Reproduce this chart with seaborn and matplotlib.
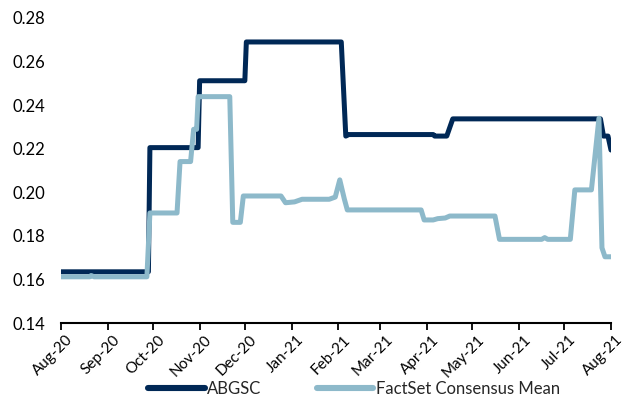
import matplotlib
matplotlib.use("Agg")
import matplotlib.pyplot as plt
import matplotlib.dates as mdates
import matplotlib.transforms as mtransforms
from matplotlib.ticker import FormatStrFormatter
import pandas as pd
import seaborn as sns

# ABGSC estimate path (date, value at each turning point)
abgsc_dates = [
    "2020-08-01", "2020-09-28", "2020-09-29", "2020-10-31", "2020-11-01",
    "2020-12-01", "2020-12-02", "2021-02-03", "2021-02-06", "2021-02-08",
    "2021-04-05", "2021-04-06", "2021-04-14", "2021-04-18", "2021-07-25",
    "2021-07-27", "2021-07-30", "2021-08-01",
]
abgsc_values = [
    0.1635, 0.1635, 0.2205, 0.2205, 0.2512,
    0.2512, 0.2690, 0.2690, 0.2258, 0.2265,
    0.2265, 0.2258, 0.2258, 0.2337, 0.2337,
    0.2258, 0.2258, 0.2194,
]

# FactSet consensus mean path
factset_dates = [
    "2020-08-01", "2020-08-20", "2020-08-21", "2020-08-23", "2020-09-27",
    "2020-09-29", "2020-10-17", "2020-10-19", "2020-10-26", "2020-10-28",
    "2020-10-30", "2020-10-31", "2020-11-21", "2020-11-23", "2020-11-28",
    "2020-11-30", "2020-12-25", "2020-12-28", "2021-01-03", "2021-01-08",
    "2021-01-26", "2021-01-30", "2021-02-02", "2021-02-05", "2021-02-07",
    "2021-03-28", "2021-03-30", "2021-04-05", "2021-04-08", "2021-04-13",
    "2021-04-16", "2021-05-16", "2021-05-19", "2021-06-16", "2021-06-18",
    "2021-06-20", "2021-07-05", "2021-07-08", "2021-07-19", "2021-07-24",
    "2021-07-26", "2021-07-28", "2021-08-01",
]
factset_values = [
    0.1612, 0.1612, 0.1618, 0.1612, 0.1612,
    0.1905, 0.1905, 0.2141, 0.2141, 0.2289,
    0.2289, 0.2439, 0.2439, 0.1862, 0.1862,
    0.1983, 0.1983, 0.1952, 0.1956, 0.1968,
    0.1968, 0.1978, 0.2057, 0.1970, 0.1919,
    0.1919, 0.1873, 0.1873, 0.1879, 0.1882,
    0.1891, 0.1891, 0.1784, 0.1784, 0.1792,
    0.1784, 0.1784, 0.2011, 0.2011, 0.2340,
    0.1745, 0.1704, 0.1704,
]

series_names = ["ABGSC", "FactSet Consensus Mean"]
series_colors = ["#002856", "#8DB9CA"]

df = pd.concat([
    pd.DataFrame({"date": pd.to_datetime(abgsc_dates), "value": abgsc_values,
                  "series": series_names[0]}),
    pd.DataFrame({"date": pd.to_datetime(factset_dates), "value": factset_values,
                  "series": series_names[1]}),
], ignore_index=True)

sns.set_theme(style="white")
plt.rcParams["font.family"] = ["Lato", "DejaVu Sans"]

fig = plt.figure(figsize=(6.29, 3.99), dpi=100)
ax = fig.add_axes([61 / 629, 1 - 323 / 399, 550 / 629, 305 / 399])

sns.lineplot(
    data=df, x="date", y="value", hue="series",
    hue_order=series_names, palette=series_colors,
    estimator=None, sort=False, linewidth=3.6, ax=ax,
    solid_capstyle="round", solid_joinstyle="round",
)

ax.set_xlim(pd.Timestamp("2020-08-01"), pd.Timestamp("2021-08-01"))
ax.set_ylim(0.14, 0.28)
ax.set_yticks([0.14, 0.16, 0.18, 0.20, 0.22, 0.24, 0.26, 0.28])
ax.yaxis.set_major_formatter(FormatStrFormatter("%.2f"))
ax.xaxis.set_major_locator(mdates.MonthLocator())
ax.xaxis.set_major_formatter(mdates.DateFormatter("%b-%y"))
ax.set_xlabel("")
ax.set_ylabel("")

for side in ["top", "right", "left"]:
    ax.spines[side].set_visible(False)
ax.spines["bottom"].set_color("black")
ax.spines["bottom"].set_linewidth(1.5)

ax.tick_params(axis="y", length=0, pad=11, labelsize=12, labelcolor="black")
ax.tick_params(axis="x", direction="out", length=5, width=1.3, color="black",
               pad=2, labelsize=11, labelcolor="black", bottom=True)
shift = mtransforms.ScaledTranslation(5 / 100, 0, fig.dpi_scale_trans)
for lbl in ax.get_xticklabels():
    lbl.set_rotation(45)
    lbl.set_ha("right")
    lbl.set_va("top")
    lbl.set_rotation_mode("anchor")
    lbl.set_transform(lbl.get_transform() + shift)

handles, labels = ax.get_legend_handles_labels()
ax.get_legend().remove()
for h in handles:
    h.set_linewidth(4.4)
    h.set_solid_capstyle("round")
fig.legend(
    handles, labels, loc="center", bbox_to_anchor=(354 / 629, 1 - 389 / 399),
    ncol=2, frameon=False, fontsize=12, handlelength=3.4, handletextpad=0.15,
    columnspacing=3.3, borderpad=0,
)

fig.savefig("out.png", dpi=100)
